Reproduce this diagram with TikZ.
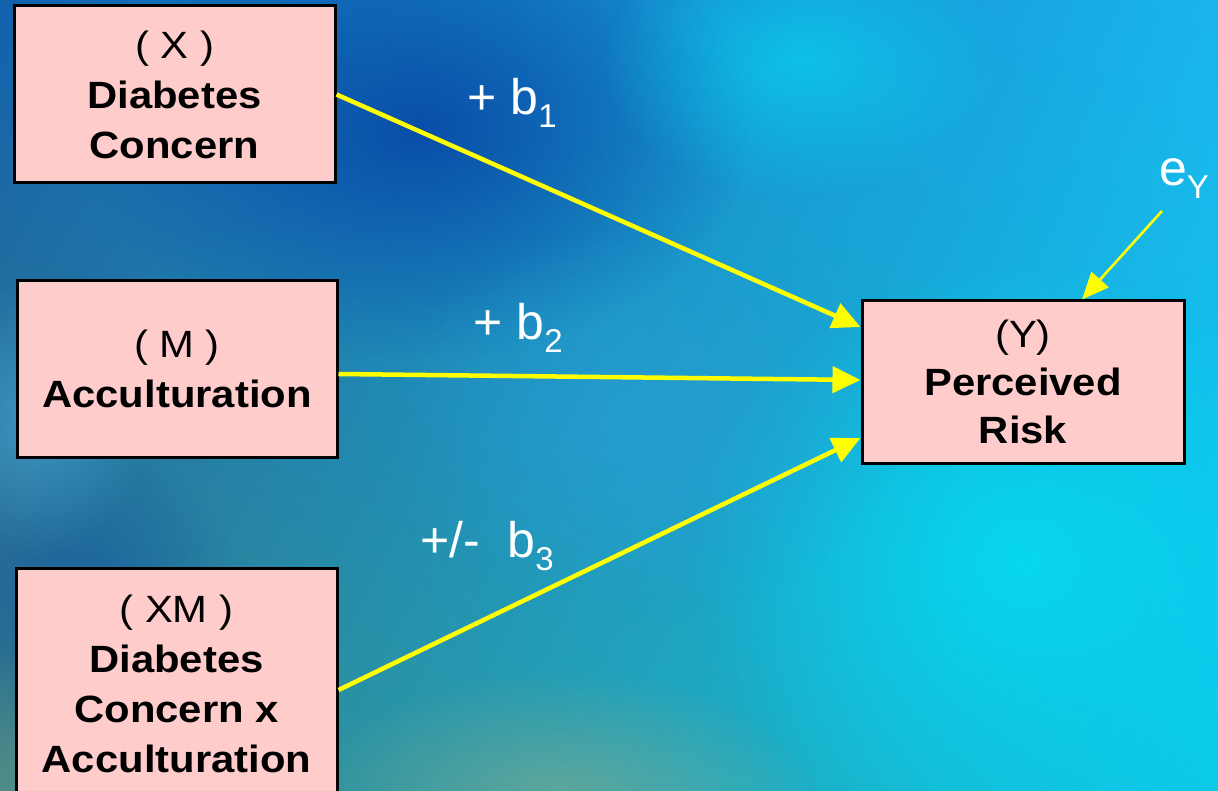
\documentclass[tikz,border=0pt]{standalone}
\usepackage{fontspec}
\setmainfont{Liberation Sans}
\newfontfamily\boxfont{Liberation Sans}[FakeStretch=1.1]
\usetikzlibrary{arrows.meta,shadings,fadings}
\tikzfading[name=blobfade, inner color=transparent!0, outer color=transparent!100]
\definecolor{boxpink}{HTML}{FFCCCC}
\definecolor{arrowyellow}{HTML}{FFFF00}
\definecolor{bgul}{HTML}{1262AE}
\definecolor{bgur}{HTML}{1AB4EC}
\definecolor{bgll}{HTML}{3A7E84}
\definecolor{bglr}{HTML}{0CCAEA}
\definecolor{deepblue}{HTML}{0748A6}
\definecolor{brightcyan}{HTML}{06DAF2}
\definecolor{greenish}{HTML}{7AA890}
\definecolor{midblue}{HTML}{2A9ED8}
\definecolor{lightblue}{HTML}{4AA8D8}
\newcommand{\sub}[1]{\raisebox{-13pt}{\fontsize{33}{33}\selectfont #1}}
\begin{document}
\begin{tikzpicture}[x=1pt,y=-1pt,
  box/.style={draw=black, line width=3pt, fill=boxpink, align=center,
    inner sep=0pt, font=\boxfont\fontsize{38}{50}\selectfont},
  conn/.style={draw=arrowyellow, line width=4.5pt,
    -{Triangle[length=28pt,width=26pt]}},
  connthin/.style={draw=arrowyellow, line width=2.6pt,
    -{Triangle[length=27pt,width=23pt]}},
  lbl/.style={text=white, font=\fontsize{50}{50}\selectfont, inner sep=0pt},
  blob/.style={path fading=blobfade}]
\useasboundingbox (0,0) rectangle (1218,791);
\clip (0,0) rectangle (1218,791);
\shade[upper left=bgul, upper right=bgur, lower left=bgll, lower right=bglr]
  (0,0) rectangle (1218,791);
\fill[deepblue, blob, opacity=0.9] (420,130) ellipse (330 and 230);
\fill[deepblue, blob, opacity=0.5] (80,600) ellipse (160 and 160);
\fill[lightblue, blob, opacity=0.6] (30,420) ellipse (120 and 140);
\fill[brightcyan, blob, opacity=0.9] (1020,560) ellipse (330 and 300);
\fill[brightcyan, blob, opacity=0.6] (800,60) ellipse (200 and 140);
\fill[midblue, blob, opacity=0.6] (640,420) ellipse (260 and 200);
\fill[greenish, blob, opacity=0.7] (560,800) ellipse (260 and 130);
\fill[greenish, blob, opacity=0.4] (40,800) ellipse (200 and 160);

\node[box, minimum width=321, minimum height=177] (X) at (174.5,94.5)
  {( X )\\\textbf{Diabetes}\\\textbf{Concern}};
\node[box, minimum width=320, minimum height=176] (M) at (177,369)
  {( M )\\\textbf{Acculturation}};
\node[box, minimum width=321, minimum height=232] (XM) at (176.5,684)
  {( XM )\\\textbf{Diabetes}\\\textbf{Concern x}\\\textbf{Acculturation}};
\node[box, minimum width=322, minimum height=162, font=\boxfont\fontsize{38}{48}\selectfont] (Y) at (1023,382)
  {(Y)\\\textbf{Perceived}\\\textbf{Risk}};

\draw[conn] (X.east) -- ([yshift=55pt]Y.west);
\draw[conn] ([yshift=-5pt]M.east) -- ([yshift=2pt]Y.west);
\draw[conn] ([yshift=-6pt]XM.east) -- ([yshift=-56pt]Y.west);

\coordinate (eYs) at (1162,211);
\draw[connthin] (eYs) -- ([xshift=59pt]Y.north);

\node[lbl] (b1) at (512,103) {+ b\sub{1}};
\node[lbl] (b2) at (518,328) {+ b\sub{2}};
\node[lbl] (b3) at (487,546) {+/-\ \ b\sub{3}};
\node[lbl] (eY) at (1184,179) {e\sub{Y}};
\end{tikzpicture}
\end{document}
